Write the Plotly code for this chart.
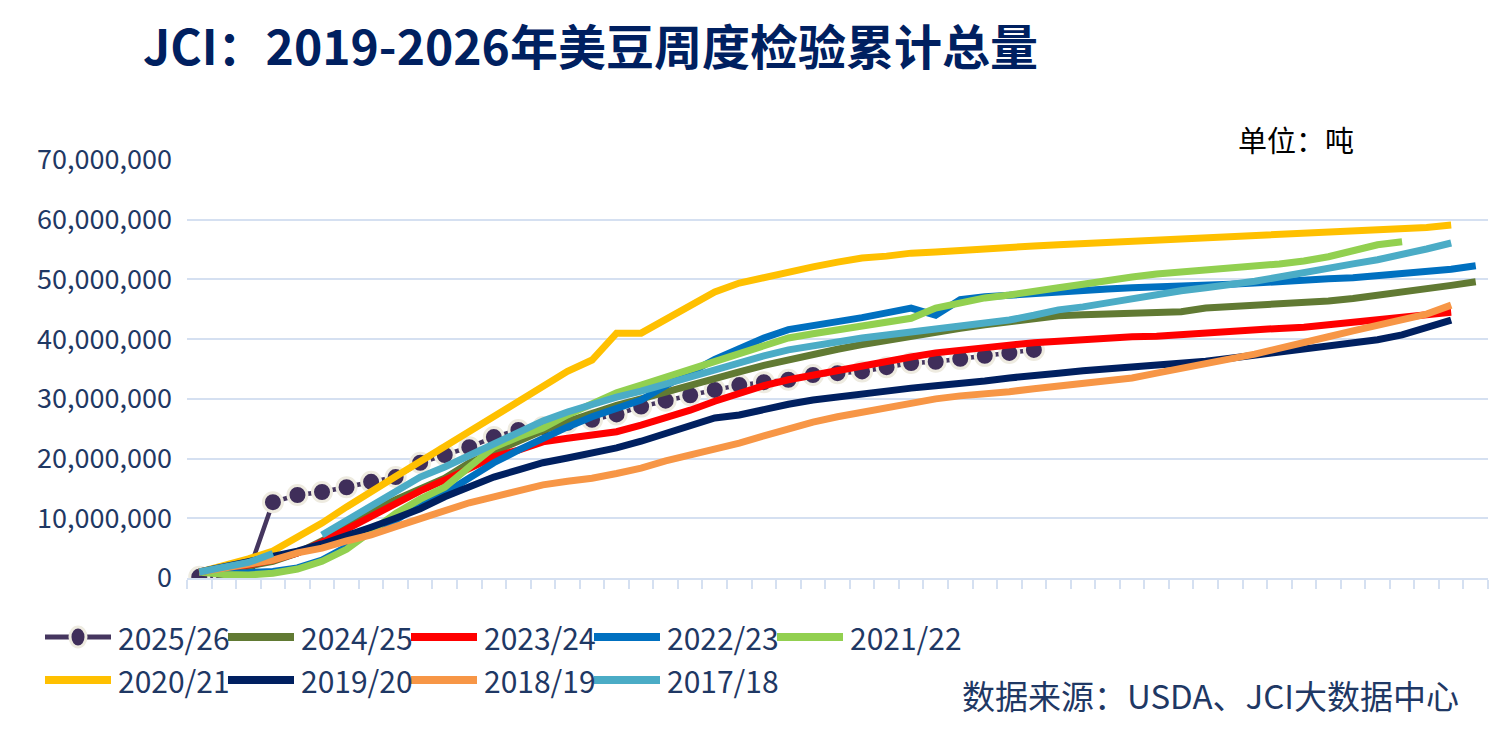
import plotly.graph_objects as go

# %% Data (cumulative inspections, million tonnes, by marketing-year week)
weeks = list(range(1, 54))

s2025_26 = [0.2, 0.5, 0.9, 12.7, 13.9, 14.4, 15.2, 16.1, 16.9, 19.3, 20.6, 21.9, 23.6, 24.8, 25.3,
            26.0, 26.5, 27.4, 28.7, 29.7, 30.6, 31.5, 32.3, 32.8, 33.2, 34.0, 34.3, 34.6, 35.3, 36.0,
            36.2, 36.7, 37.2, 37.7, 38.2]
s2024_25 = [1.0, 1.5, 2.0, 2.8, 4.2, 6.2, 8.6, 11.2, 13.1, 14.9, 16.7, 19.3, 21.1, 23.0, 24.7,
            26.2, 27.6, 28.9, 30.0, 31.2, 32.3, 33.4, 34.5, 35.6, 36.6, 37.5, 38.3, 39.1, 39.8, 40.6,
            41.2, 41.8, 42.4, 42.9, 43.4, 43.9, 44.1, 44.2, 44.2, 44.4, 44.6, 45.2, 45.4, 45.6, 45.8,
            46.1, 46.4, 46.8, 47.3, 47.9, 48.5, 49.0, 49.6]
s2023_24 = [1.0, 1.5, 2.2, 3.0, 4.2, 6.0, 8.2, 10.2, 12.6, 14.6, 16.4, 18.4, 20.3, 21.4, 22.8,
            23.4, 23.9, 24.5, 25.6, 26.8, 28.1, 29.6, 31.0, 32.2, 33.2, 34.0, 34.8, 35.5, 36.3, 37.0,
            37.7, 38.2, 38.7, 39.0, 39.4, 39.7, 39.9, 40.1, 40.4, 40.5, 40.8, 41.0, 41.2, 41.5, 41.8,
            42.0, 42.4, 42.7, 43.1, 43.5, 43.9, 44.5]
s2022_23 = [1.0, 0.8, 0.9, 1.1, 1.7, 3.0, 5.2, 7.9, 9.7, 12.2, 14.2, 16.7, 19.3, 21.4, 23.4,
            25.3, 27.0, 28.5, 29.8, 32.2, 34.5, 36.6, 38.4, 40.2, 41.6, 42.2, 42.9, 43.6, 44.4, 45.2,
            44.0, 46.6, 47.1, 47.4, 47.6, 47.9, 48.2, 48.4, 48.6, 48.7, 48.9, 49.1, 49.2, 49.4, 49.7,
            49.9, 50.1, 50.3, 50.6, 50.9, 51.3, 51.7, 52.3]
s2021_22 = [1.0, 0.6, 0.5, 0.8, 1.5, 2.8, 4.8, 7.8, 10.8, 13.2, 15.2, 18.6, 21.9, 23.6, 25.1,
            27.3, 29.3, 31.0, 32.3, 33.6, 35.0, 36.4, 37.6, 38.8, 40.2, 40.9, 41.5, 42.2, 42.9, 43.5,
            45.2, 46.2, 46.9, 47.4, 47.9, 48.6, 49.2, 49.9, 50.4, 50.9, 51.2, 51.6, 51.9, 52.3, 52.6,
            53.1, 53.8, 54.8, 55.8, 56.3]
s2020_21 = [1.0, 2.0, 3.2, 4.5, 6.7, 9.2, 11.9, 14.6, 17.0, 19.5, 22.0, 24.5, 27.0, 29.6, 32.1,
            34.6, 36.5, 41.0, 41.0, 43.2, 45.7, 47.9, 49.4, 50.4, 51.2, 52.1, 52.9, 53.6, 53.9, 54.4,
            54.6, 54.9, 55.1, 55.4, 55.6, 55.8, 56.0, 56.3, 56.4, 56.6, 56.8, 56.9, 57.1, 57.4, 57.5,
            57.8, 57.9, 58.1, 58.3, 58.4, 58.7, 59.1]
s2019_20 = [1.0, 1.8, 2.7, 3.5, 4.5, 5.7, 7.0, 8.5, 10.0, 11.6, 13.6, 15.2, 16.9, 18.1, 19.3,
            20.1, 20.9, 21.8, 22.9, 24.3, 25.6, 26.8, 27.3, 28.3, 29.1, 29.8, 30.3, 31.0, 31.5, 31.8,
            32.2, 32.5, 33.0, 33.5, 34.0, 34.3, 34.7, 35.0, 35.3, 35.6, 35.8, 36.3, 36.8, 37.3, 37.8,
            38.2, 38.7, 39.2, 39.9, 40.7, 41.9, 43.2]
s2018_19 = [1.0, 1.7, 2.3, 3.0, 4.2, 5.0, 6.2, 7.2, 8.6, 10.0, 11.4, 12.6, 13.6, 14.6, 15.6,
            16.2, 16.7, 17.5, 18.4, 19.6, 20.6, 21.4, 22.6, 23.8, 25.1, 26.1, 27.0, 27.8, 28.6, 29.3,
            30.0, 30.5, 30.8, 31.2, 31.7, 32.2, 32.5, 33.0, 33.5, 34.3, 35.2, 36.0, 36.7, 37.5, 38.4,
            39.4, 40.4, 41.4, 42.4, 43.2, 44.2, 45.7]
s2017_18 = [1.0, 1.8, 2.6, 4.1, None, 7.2, 9.7, 12.2, 14.7, 16.9, 18.6, 20.6, 22.6, 24.5, 26.3,
            27.8, 29.1, 30.3, 31.3, 32.5, 33.8, 35.0, 36.2, 37.2, 38.2, 38.9, 39.5, 40.2, 40.7, 41.2,
            41.5, 42.0, 42.7, 43.2, 44.0, 44.9, 45.4, 46.1, 46.7, 47.4, 48.1, 48.6, 49.1, 49.7, 50.4,
            51.2, 51.9, 52.6, 53.3, 54.1, 55.1, 56.1]

names = ["2025/26", "2024/25", "2023/24", "2022/23", "2021/22",
         "2020/21", "2019/20", "2018/19", "2017/18"]
series = [s2025_26, s2024_25, s2023_24, s2022_23, s2021_22,
          s2020_21, s2019_20, s2018_19, s2017_18]
colors = ["#45365F", "#617A33", "#FF0000", "#0070C0", "#92D050",
          "#FFC000", "#002060", "#F79646", "#4BACC6"]

yticks = [0, 10e6, 20e6, 30e6, 40e6, 50e6, 60e6, 70e6]

# %% Style
FONT = "Noto Sans CJK SC"
TEXT_BLUE = "#1F3864"
GRID = "#D5E0F1"
OFF = 8                      # page margin the browser adds around the figure
W, H = 1505 - OFF, 731 - OFF
L, R, T, B = 187 - OFF, 17, 160 - OFF, 153


def px_x(px):
    # reference-picture pixel -> paper coordinate
    return (px - OFF - L) / (W - L - R)


def px_y(py):
    return (H - B - (py - OFF)) / (H - T - B)


# %% Traces
fig = go.Figure()
for name, vals, col in zip(names, series, colors):
    yv = [None if v is None else v * 1e6 for v in vals]
    if name == "2025/26":
        fig.add_trace(go.Scatter(
            x=weeks[:len(yv)], y=yv, name=name, mode="lines+markers",
            line=dict(color=col, width=4.5),
            marker=dict(size=19, color="#3F2E5A", line=dict(color="#EEEBE0", width=3)),
            showlegend=False))
    else:
        fig.add_trace(go.Scatter(
            x=weeks[:len(yv)], y=yv, name=name, mode="lines",
            line=dict(color=col, width=7),
            connectgaps=False, showlegend=False))

# %% Custom legend (long line glyphs, two rows)
shapes = []
annotations = []
for i, (name, col) in enumerate(zip(names, colors)):
    row, c = divmod(i, 5)
    x0 = 45 + c * 183
    yy = 637 + row * 43
    shapes.append(dict(type="line", xref="paper", yref="paper",
                       x0=px_x(x0), x1=px_x(x0 + 66), y0=px_y(yy), y1=px_y(yy),
                       line=dict(color=col, width=8 if i else 5)))
    if i == 0:
        shapes.append(dict(type="circle", xref="paper", yref="paper",
                           x0=px_x(x0 + 25), x1=px_x(x0 + 41),
                           y0=px_y(yy + 10), y1=px_y(yy - 10),
                           fillcolor="#3F2E5A", line=dict(color="#EEEBE0", width=3)))
    annotations.append(dict(text=name, xref="paper", yref="paper",
                            x=px_x(x0 + 71), y=px_y(yy), xanchor="left", yanchor="middle",
                            showarrow=False, font=dict(family=FONT, size=30, color=TEXT_BLUE)))

annotations.append(dict(text="单位：吨", xref="paper", yref="paper",
                        x=px_x(1356), y=px_y(139), xanchor="right", yanchor="middle",
                        showarrow=False, font=dict(family=FONT, size=29, color="#000000")))
annotations.append(dict(text="数据来源：USDA、JCI大数据中心", xref="paper", yref="paper",
                        x=px_x(1461), y=px_y(695), xanchor="right", yanchor="middle",
                        showarrow=False, font=dict(family=FONT, size=33, color=TEXT_BLUE)))

# %% Layout
fig.update_layout(
    width=W, height=H,
    margin=dict(l=L, r=R, t=T, b=B),
    paper_bgcolor="white", plot_bgcolor="white",
    title=dict(text="<b>JCI：2019-2026年美豆周度检验累计总量</b>",
               xref="container", yref="container", x=(143 - OFF) / W, xanchor="left",
               y=1 - (48 - OFF) / H, yanchor="middle",
               font=dict(family=FONT, size=48, color="#002060")),
    xaxis=dict(range=[0.5, 53.5], tickmode="array",
               tickvals=[w - 0.5 for w in weeks] + [53.5],
               showticklabels=False, ticks="outside", ticklen=9, tickwidth=2, tickcolor=GRID,
               showgrid=False, showline=True, linecolor=GRID, linewidth=2, zeroline=False),
    yaxis=dict(range=[0, 70e6], tickmode="array", tickvals=yticks, tickformat=",d",
               showgrid=True, gridcolor=GRID, gridwidth=2, zeroline=False, showline=False,
               ticks="", ticklabelstandoff=14,
               tickfont=dict(family=FONT, size=27, color=TEXT_BLUE)),
    shapes=shapes,
    annotations=annotations,
    showlegend=False,
)

fig.write_html("out.html")
